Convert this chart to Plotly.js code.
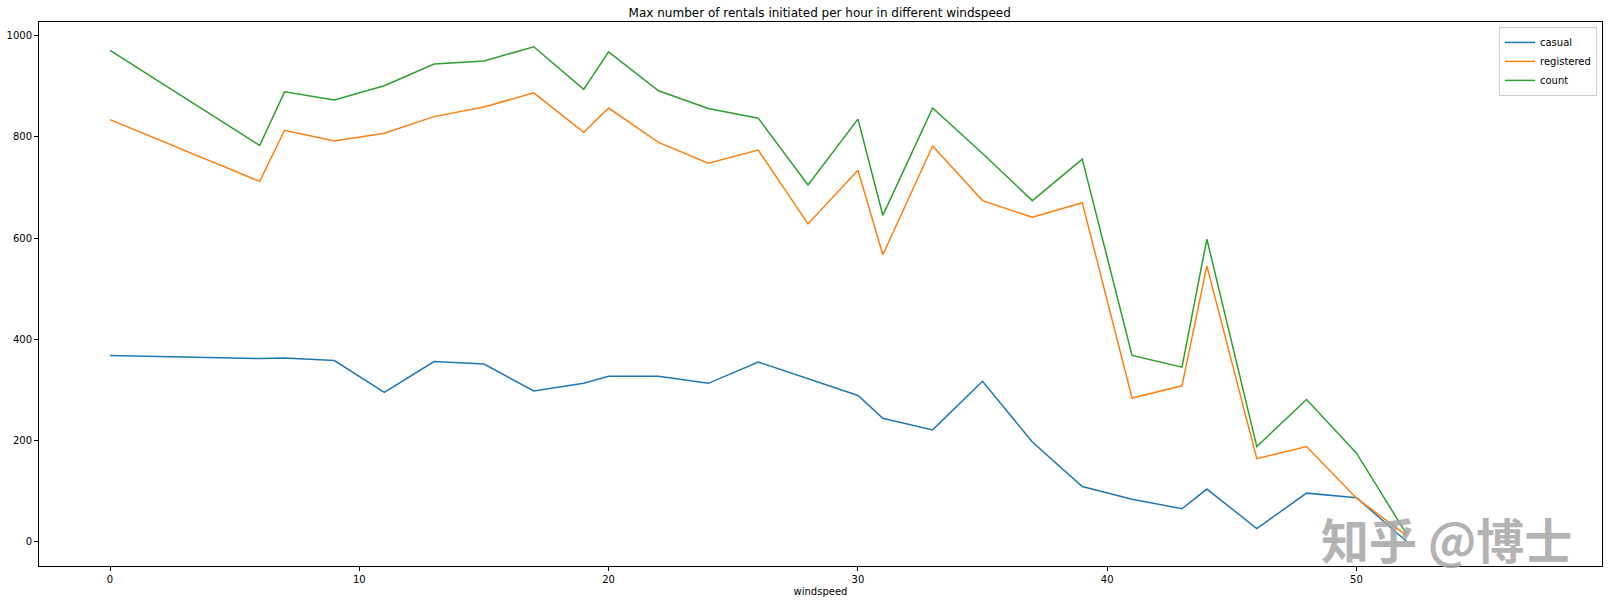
<!DOCTYPE html>
<html>
<head>
<meta charset="utf-8">
<script src="https://cdn.plot.ly/plotly-3.0.1.min.js"></script>
<style>
html,body{margin:0;padding:0;background:#fff;}
#chart{width:1612px;height:604px;}
</style>
</head>
<body>
<div id="chart"></div>
<script>
const windspeed = [0, 6.0032, 7.0015, 8.9981, 11.0014, 12.998, 15.0013, 16.9979, 19.0012, 19.9995, 22.0028, 23.9994, 26.0027, 27.9993, 30.0026, 31.0009, 32.9975, 35.0008, 36.9974, 39.0007, 40.9973, 43.0006, 43.9989, 46.0022, 47.9988, 50.0021, 51.9987];
const casual = [368, 362, 363, 358, 295, 356, 351, 298, 313, 327, 327, 313, 355, 322, 289, 244, 221, 317, 197, 109, 84, 65, 104, 26, 96, 87, 1];
const registered = [834, 712, 813, 792, 807, 840, 859, 887, 809, 857, 789, 748, 774, 628, 734, 567, 782, 674, 641, 670, 284, 308, 545, 164, 188, 86, 13];
const count = [971, 783, 889, 873, 901, 944, 950, 978, 894, 968, 891, 856, 837, 705, 835, 645, 857, 767, 674, 756, 368, 345, 598, 188, 281, 175, 16];
const seriesNames = ['casual', 'registered', 'count'];
const xTicks = [0, 10, 20, 30, 40, 50];
const yTicks = [0, 200, 400, 600, 800, 1000];
const titleText = 'Max number of rentals initiated per hour in different windspeed';
const xLabel = 'windspeed';
const watermark = '知乎 @博士';

const colors = ['#1f77b4', '#ff7f0e', '#2ca02c'];
const seriesValues = [casual, registered, count];
const traces = seriesValues.map((v, i) => ({
  x: windspeed, y: v, type: 'scatter', mode: 'lines', name: seriesNames[i],
  line: {color: colors[i], width: 1.5}
}));

const font = 'DejaVu Sans, sans-serif';
const axisCommon = {
  showline: true, mirror: true, linecolor: '#000', linewidth: 1,
  showgrid: false, zeroline: false, ticks: 'outside', ticklen: 4, tickwidth: 1,
  tickcolor: '#000', tickfont: {family: font, size: 10, color: '#000'}
};

const layout = {
  width: 1612, height: 604,
  margin: {l: 39, r: 10, t: 22, b: 38},
  paper_bgcolor: '#fff', plot_bgcolor: '#fff',
  title: {text: titleText, font: {family: font, size: 12, color: '#000'},
          x: 0.5085, xanchor: 'center', y: 0.978, yanchor: 'middle'},
  xaxis: Object.assign({}, axisCommon, {
    range: [-2.85, 59.85], tickmode: 'array', tickvals: xTicks, ticktext: xTicks.map(String),
    title: {text: xLabel, font: {family: font, size: 10, color: '#000'}, standoff: 3}
  }),
  yaxis: Object.assign({}, axisCommon, {
    range: [-48, 1027], tickmode: 'array', tickvals: yTicks, ticktext: yTicks.map(String)
  }),
  showlegend: true,
  legend: {x: 0.9968, xanchor: 'right', y: 0.991, yanchor: 'top', itemwidth: 30,
           bgcolor: 'rgba(255,255,255,0.8)', bordercolor: '#cccccc', borderwidth: 1,
           font: {family: font, size: 10, color: '#000'}, tracegroupgap: 0},
  annotations: [{
    text: watermark, xref: 'paper', yref: 'paper', x: 0.9008, y: 0.0515,
    xanchor: 'center', yanchor: 'middle', showarrow: false,
    font: {family: 'Noto Sans CJK SC, sans-serif', size: 48, weight: 'bold', color: 'rgba(165,165,165,0.85)'}
  }]
};

Plotly.newPlot('chart', traces, layout, {displayModeBar: false, staticPlot: true});
</script>
</body>
</html>
